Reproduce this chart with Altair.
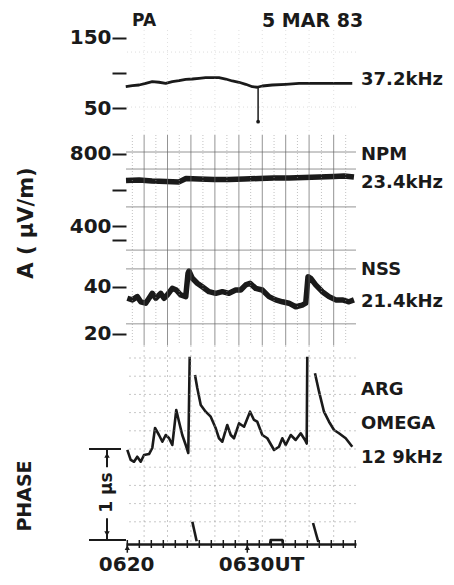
import altair as alt
import pandas as pd

FONT = "DejaVu Sans"
INK = "#1a1a1a"
XDOM = [-0.11, 19.06]   # minutes after 0620 UT
W = 230

# ---------------- data (read from the record) ----------------
# 37.2 kHz amplitude (uV/m)
pa_t = [-0.13, 0.42, 0.98, 1.53, 2.08, 2.64, 3.2, 3.75, 4.31, 4.87, 5.42, 5.98, 6.53, 7.08,
        7.64, 8.2, 8.75, 9.31, 9.87, 10.42, 10.83, 11.25, 12.08, 13.2, 14.31, 15.98, 17.64, 18.75]
pa_v = [80.9, 82.3, 83.3, 85.7, 88.0, 87.2, 85.7, 88.0, 89.4, 91.4, 91.8, 92.8, 93.7, 93.7,
        93.7, 91.8, 89.0, 87.2, 84.3, 80.9, 80.1, 81.9, 83.3, 84.3, 85.7, 85.7, 85.7, 85.7]
pa_spike_t = [10.9]
pa_spike_top = [80.0]
pa_spike_bot = [31.3]

# NPM 23.4 kHz amplitude
npm_t = [-0.11, 0.98, 2.06, 3.23, 4.31, 4.89, 5.98, 7.23, 8.48, 9.73, 10.98, 12.23, 13.48,
         14.73, 15.98, 17.23, 18.06, 18.89]
npm_v = [654, 657, 651, 648, 646, 665, 662, 659, 659, 662, 665, 668, 668, 670, 673, 676, 679, 673]

# NSS 21.4 kHz amplitude
nss_t = [0.0, 0.42, 0.83, 1.12, 1.53, 1.81, 2.08, 2.37, 2.78, 3.06, 3.33, 3.75, 4.08, 4.45,
         4.87, 5.06, 5.14, 5.42, 5.83, 6.25, 6.81, 7.37, 7.92, 8.47, 9.03, 9.45, 9.87, 10.23,
         10.70, 11.25, 11.81, 12.37, 12.92, 13.47, 14.03, 14.58, 14.87, 15.06, 15.28, 15.70,
         16.25, 16.81, 17.37, 17.92, 18.47, 18.89]
nss_v = [35.2, 34.5, 35.9, 33.7, 33.1, 35.2, 37.3, 35.2, 37.3, 35.2, 36.6, 39.4, 38.7, 36.6,
         35.9, 45.8, 46.8, 43.7, 41.6, 40.1, 38.0, 37.3, 38.0, 37.3, 38.7, 38.7, 40.9, 41.6,
         39.4, 38.7, 35.9, 34.5, 33.7, 33.1, 31.6, 32.3, 33.1, 44.4, 43.7, 40.9,
         38.0, 35.9, 34.5, 34.5, 33.7, 34.5]

# ARG OMEGA 12.9 kHz phase (us), pen segments
argA_t = [0.0, 0.28, 0.56, 0.83, 1.12, 1.39, 1.81, 2.08, 2.31, 2.64, 2.92, 3.2, 3.47, 3.75,
          4.08, 4.31, 4.58, 4.87, 5.08, 5.2]
argA_v = [0.99, 0.88, 0.86, 0.915, 0.86, 0.934, 0.945, 1.011, 1.231, 1.154, 1.08, 1.154, 1.121,
          1.044, 1.429, 1.3, 1.154, 1.044, 0.956, 2.014]
argB_t = [5.64, 5.83, 6.12, 6.53, 6.95, 7.37, 7.64, 7.92, 8.33, 8.62, 8.89, 9.31, 9.73, 10.23,
          10.56, 10.83, 11.25, 11.67, 12.23, 12.64, 12.92, 13.2, 13.62, 14.03, 14.45, 14.81,
          14.95, 15.0]
argB_v = [1.813, 1.67, 1.484, 1.41, 1.355, 1.227, 1.118, 1.08, 1.264, 1.154, 1.118, 1.282, 1.245,
          1.41, 1.319, 1.3, 1.154, 1.118, 0.989, 1.025, 1.118, 1.044, 1.154, 1.099, 1.173, 1.099,
          1.06, 2.014]
argC_t = [15.64, 15.98, 16.39, 16.81, 17.23, 17.64, 18.2, 18.75]
argC_v = [1.832, 1.63, 1.41, 1.3, 1.209, 1.173, 1.118, 1.025]
argD_t = [5.42, 5.78]
argD_v = [0.201, -0.013]
argE_t = [15.48, 15.92]
argE_v = [0.187, -0.022]
argF_t = [11.9, 11.95, 12.92, 12.97]
argF_v = [-0.044, 0.0, 0.0, -0.044]

# chart-paper grid
grid_major_t = [1.4, 3.35, 5.3, 7.3, 9.3, 11.25, 13.2, 15.15, 17.2]
grid_minor_t = [0.42, 2.38, 4.33, 6.3, 8.3, 10.28, 12.23, 14.18, 16.18, 18.2]
pa_hgrid = [130, 52]
npm_hgrid = [811, 717, 508]
nss_hgrid = [55.7, 47.7, 24.3]
arg_hgrid = [0.2, 0.4, 0.6, 0.8, 1.0, 1.2, 1.4, 1.6, 1.8, 2.0]
minute_ticks = list(range(20))
time_marks = [0, 10]

# ---------------- helpers ----------------
xs = alt.Scale(domain=XDOM, nice=False, zero=False)


def yaxis(values, blank):
    return alt.Axis(values=values, labelExpr=f"datum.value == {blank} ? '' : datum.label",
                    tickSize=14, tickWidth=2, tickColor=INK, domain=False, grid=False,
                    labelFont=FONT, labelFontSize=20, labelFontWeight="bold", labelColor=INK,
                    labelPadding=1, title=None)


class Panel:
    def __init__(self, ys, yax, xax=None):
        self.ys, self.yax, self.xax = ys, yax, xax

    def X(self, field):
        return alt.X(field, type="quantitative", scale=xs, axis=self.xax)

    def Y(self, field=None, datum=None):
        if datum is not None:
            return alt.Y(datum=datum, type="quantitative", scale=self.ys, axis=self.yax)
        return alt.Y(field, type="quantitative", scale=self.ys, axis=self.yax)

    def trace(self, t, v, width):
        df = pd.DataFrame({"t": t, "v": v})
        return alt.Chart(df).mark_line(color=INK, strokeWidth=width, strokeJoin="round").encode(
            x=self.X("t"), y=self.Y("v"))

    def vgrid(self, vals, color, dash, op, w=1):
        return alt.Chart(pd.DataFrame({"g": vals})).mark_rule(
            color=color, strokeDash=dash, opacity=op, strokeWidth=w).encode(x=self.X("g"))

    def hgrid(self, vals, color, dash, op, w=1):
        return alt.Chart(pd.DataFrame({"h": vals})).mark_rule(
            color=color, strokeDash=dash, opacity=op, strokeWidth=w).encode(y=self.Y("h"))

    def label(self, txt, yv, size=18, dx=235):
        return alt.Chart(pd.DataFrame({"a": [0]})).mark_text(
            text=txt, font=FONT, fontSize=size, fontWeight="bold", color=INK,
            align="left", baseline="middle").encode(
            x=alt.value(dx), y=self.Y(datum=yv))


def free_text(txt, x, y, size, angle=0, align="left"):
    props = dict(text=txt, font=FONT, fontSize=size, fontWeight="bold", color=INK,
                 align=align, baseline="middle")
    if angle:
        props["angle"] = angle
    return alt.Chart(pd.DataFrame({"a": [0]})).mark_text(**props).encode(
        x=alt.value(x), y=alt.value(y))


# ---------------- panel 1 : 37.2 kHz ----------------
P1 = Panel(alt.Scale(domain=[12.4, 161.3], nice=False, zero=False), yaxis([50, 100, 150], 100))
spike_df = pd.DataFrame({"t": pa_spike_t, "a": pa_spike_top, "b": pa_spike_bot})
p1 = alt.layer(
    P1.trace(pa_t, pa_v, 2.8),
    P1.vgrid(grid_major_t, "#aaa", [1, 3], 0.35),
    P1.hgrid(pa_hgrid, "#aaa", [1, 3], 0.4),
    alt.Chart(spike_df).mark_rule(color=INK, strokeWidth=1.5).encode(
        x=P1.X("t"), y=P1.Y("a"), y2="b:Q"),
    alt.Chart(spike_df).mark_point(filled=True, color=INK, size=14, opacity=1).encode(
        x=P1.X("t"), y=P1.Y("b")),
    P1.label("37.2kHz", 90.4),
    free_text("PA", 6, -9, 17),
    free_text("5 MAR 83", 136, -9, 19),
).properties(width=W, height=105)

# ---------------- panel 2 : NPM ----------------
P2 = Panel(alt.Scale(domain=[325.5, 904.8], nice=False, zero=False), yaxis([400, 600, 800], 600))
p2 = alt.layer(
    P2.trace(npm_t, npm_v, 5.5),
    P2.vgrid(grid_major_t, "#666", [], 0.7),
    P2.vgrid(grid_minor_t, "#999", [1, 2], 0.6),
    P2.hgrid(npm_hgrid, "#666", [], 0.7),
    P2.label("NPM", 794.5),
    P2.label("23.4kHz", 640),
    free_text("A ( μV/m)", -99, 88, 21, angle=270, align="center"),
).properties(width=W, height=105)

# ---------------- panel 3 : NSS ----------------
P3 = Panel(alt.Scale(domain=[15.3, 60.0], nice=False, zero=False), yaxis([20, 40, 60], 60))
p3 = alt.layer(
    P3.trace(nss_t, nss_v, 5.5),
    P3.vgrid(grid_major_t, "#666", [], 0.7),
    P3.vgrid(grid_minor_t, "#999", [1, 2], 0.6),
    P3.hgrid(nss_hgrid, "#666", [], 0.7),
    P3.label("NSS", 47.4),
    P3.label("21.4kHz", 33.4),
).properties(width=W, height=105)

# ---------------- panel 4 : ARG OMEGA phase ----------------
xaxis4 = alt.Axis(values=time_marks,
                  labelExpr="datum.value == 0 ? '0620' : '0630UT'",
                  ticks=False, domain=True, domainColor=INK, domainWidth=2.5, grid=False,
                  labelFont=FONT, labelFontSize=20, labelFontWeight="bold", labelColor=INK,
                  labelAlign="left", labelOffset=-29, labelPadding=10, labelFlush=False,
                  title=None)
P4 = Panel(alt.Scale(domain=[-0.044, 2.143], nice=False, zero=False), None, xaxis4)

segs = [("A", argA_t, argA_v), ("B", argB_t, argB_v), ("C", argC_t, argC_v),
        ("D", argD_t, argD_v), ("E", argE_t, argE_v), ("F", argF_t, argF_v)]
rows = []
for name, tt, vv in segs:
    for i, (a, b) in enumerate(zip(tt, vv)):
        rows.append({"t": a, "v": b, "seg": name, "i": i})
arg_df = pd.DataFrame(rows)

arg_line = alt.Chart(arg_df).mark_line(color=INK, strokeWidth=2.6, strokeJoin="round").encode(
    x=P4.X("t"), y=P4.Y("v"), detail="seg:N", order="i:Q")

tick_df = pd.DataFrame({"m": minute_ticks})
ticks4 = alt.Chart(tick_df).mark_rule(color=INK, strokeWidth=1.5).encode(
    x=P4.X("m"), y=P4.Y(datum=0.0), y2=alt.Y2(datum=-0.088))
arrow_df = pd.DataFrame({"m": time_marks})
arrow_stem = alt.Chart(arrow_df).mark_rule(color=INK, strokeWidth=1.5).encode(
    x=P4.X("m"), y=P4.Y(datum=-0.06), y2=alt.Y2(datum=-0.14))
arrow_head = alt.Chart(arrow_df).mark_point(shape="triangle-up", filled=True, color=INK,
                                             size=28, opacity=1).encode(
    x=P4.X("m"), y=P4.Y(datum=-0.085))


def brule(x1, x2, y1, y2=None, w=2):
    enc = dict(x=alt.value(x1), y=P4.Y(datum=y1))
    if x2 is not None:
        enc["x2"] = alt.value(x2)
    if y2 is not None:
        enc["y2"] = alt.Y2(datum=y2)
    return alt.Chart(pd.DataFrame({"a": [0]})).mark_rule(color=INK, strokeWidth=w).encode(**enc)


def bhead(yv, shape):
    return alt.Chart(pd.DataFrame({"a": [0]})).mark_point(
        shape=shape, filled=True, color=INK, size=30, opacity=1).encode(
        x=alt.value(-19), y=P4.Y(datum=yv))


p4 = alt.layer(
    arg_line,
    P4.vgrid(grid_major_t, "#999", [2, 3], 0.55),
    P4.hgrid(arg_hgrid, "#999", [2, 3], 0.55),
    ticks4, arrow_stem, arrow_head,
    brule(-37, -5, 1.0), brule(-37, 0, 0.0),
    brule(-19, None, 1.0, 0.8), brule(-19, None, 0.24, 0.0),
    bhead(0.93, "triangle-up"), bhead(0.07, "triangle-down"),
    alt.Chart(pd.DataFrame({"a": [0]})).mark_text(
        text="1 μs", font=FONT, fontSize=17, fontWeight="bold", color=INK, angle=270,
        align="center", baseline="middle").encode(x=alt.value(-19), y=P4.Y(datum=0.52)),
    free_text("PHASE", -101, 151, 19, angle=270, align="center"),
    P4.label("ARG", 1.648),
    P4.label("OMEGA", 1.28),
    P4.label("12 9kHz", 0.896),
).properties(width=W, height=199)

chart = alt.vconcat(p1, p2, p3, p4, spacing=0, bounds="flush").properties(
    padding={"left": 8, "top": 4, "right": 0, "bottom": 0},
    background="white",
).configure_view(stroke=None)

chart.save("out.html", embed_options={"renderer": "svg", "actions": False})
